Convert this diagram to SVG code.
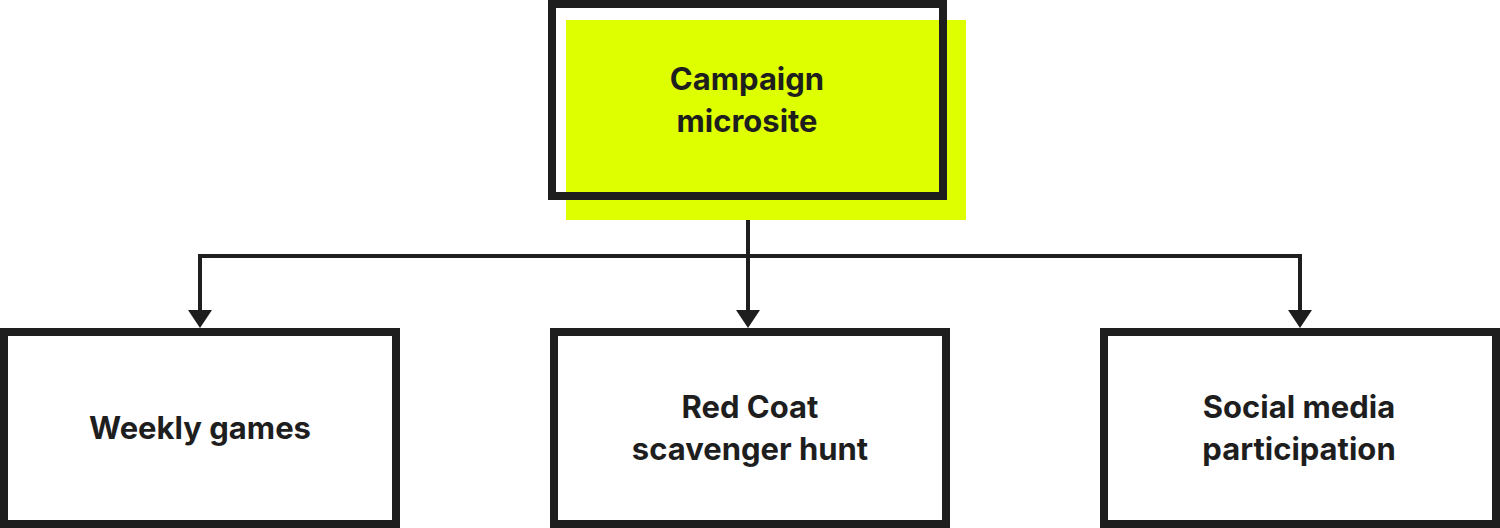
<svg xmlns="http://www.w3.org/2000/svg" width="1500" height="528" viewBox="0 0 1500 528">
  <defs>
    <style>
      .box { fill: none; stroke: #1E1E1E; stroke-width: 8; }
      .lbl { font-family: Inter, "Liberation Sans", sans-serif; font-weight: 700; font-size: 31px; fill: #1E1E1E; text-anchor: middle; }
      .conn { fill: none; stroke: #1E1E1E; stroke-width: 4; }
      .head { fill: #1E1E1E; }
    </style>
  </defs>
  <rect width="1500" height="528" fill="#FFFFFF"/>

  <g id="connectors">
    <line class="conn" x1="748" y1="200" x2="748" y2="310"/>
    <polyline class="conn" points="200,310 200,256 1300,256 1300,310"/>
    <path class="head" d="M736,310 L760,310 L748,328 Z"/>
    <path class="head" d="M188,310 L212,310 L200,328 Z"/>
    <path class="head" d="M1288,310 L1312,310 L1300,328 Z"/>
  </g>

  <g id="node-campaign">
    <rect x="566" y="20" width="400" height="200" fill="#DDFF00"/>
    <rect class="box" x="552" y="4" width="391" height="192"/>
    <text class="lbl" x="747" y="90">Campaign</text>
    <text class="lbl" x="747" y="132">microsite</text>
  </g>

  <g id="node-weekly">
    <rect class="box" x="4" y="332" width="392" height="192"/>
    <text class="lbl" x="200" y="439">Weekly games</text>
  </g>

  <g id="node-redcoat">
    <rect class="box" x="554" y="332" width="392" height="192"/>
    <text class="lbl" x="750" y="418">Red Coat</text>
    <text class="lbl" x="750" y="460">scavenger hunt</text>
  </g>

  <g id="node-social">
    <rect class="box" x="1104" y="332" width="392" height="192"/>
    <text class="lbl" x="1299" y="418">Social media</text>
    <text class="lbl" x="1299" y="460">participation</text>
  </g>
</svg>
